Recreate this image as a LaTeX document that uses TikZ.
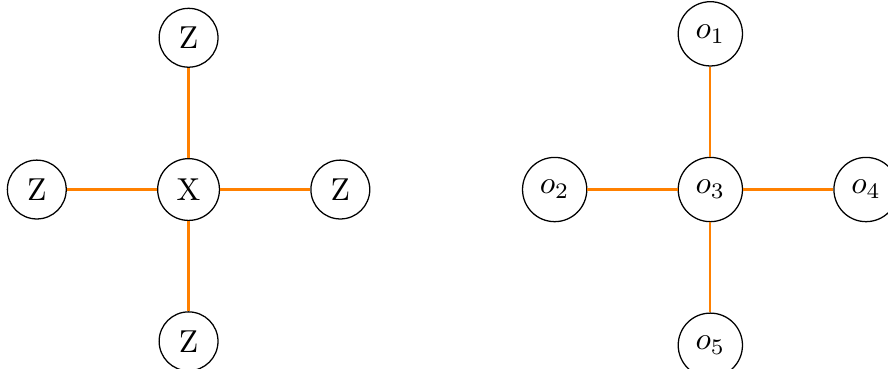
\documentclass[tikz,border=0pt]{standalone}
\usetikzlibrary{positioning}

\begin{document}
\begin{tikzpicture}[
        node distance=1cm,
        every node/.style={circle, draw},
        link/.style={orange, line width=0.7pt}
    ]
    \useasboundingbox (-59.5pt,-56.6pt) rectangle (220.7pt,59.8pt);
    % left cross
    \node (x) at (0,0) {X};
    \node (zt) [above=of x] {Z};
    \node (zl) [left=of x] {Z};
    \node (zr) [right=of x] {Z};
    \node (zb) [below=of x] {Z};
    % right cross
    \node (o2) [right=1.68cm of zr] {$o_2$};
    \node (o3) [right=of o2] {$o_3$};
    \node (o1) [above=of o3] {$o_1$};
    \node (o4) [right=of o3] {$o_4$};
    \node (o5) [below=of o3] {$o_5$};

    \draw[link] (x) -- (zt) (x) -- (zl) (x) -- (zr) (x) -- (zb);
    \draw[link] (o3) -- (o1) (o3) -- (o2) (o3) -- (o4) (o3) -- (o5);
\end{tikzpicture}
\end{document}
